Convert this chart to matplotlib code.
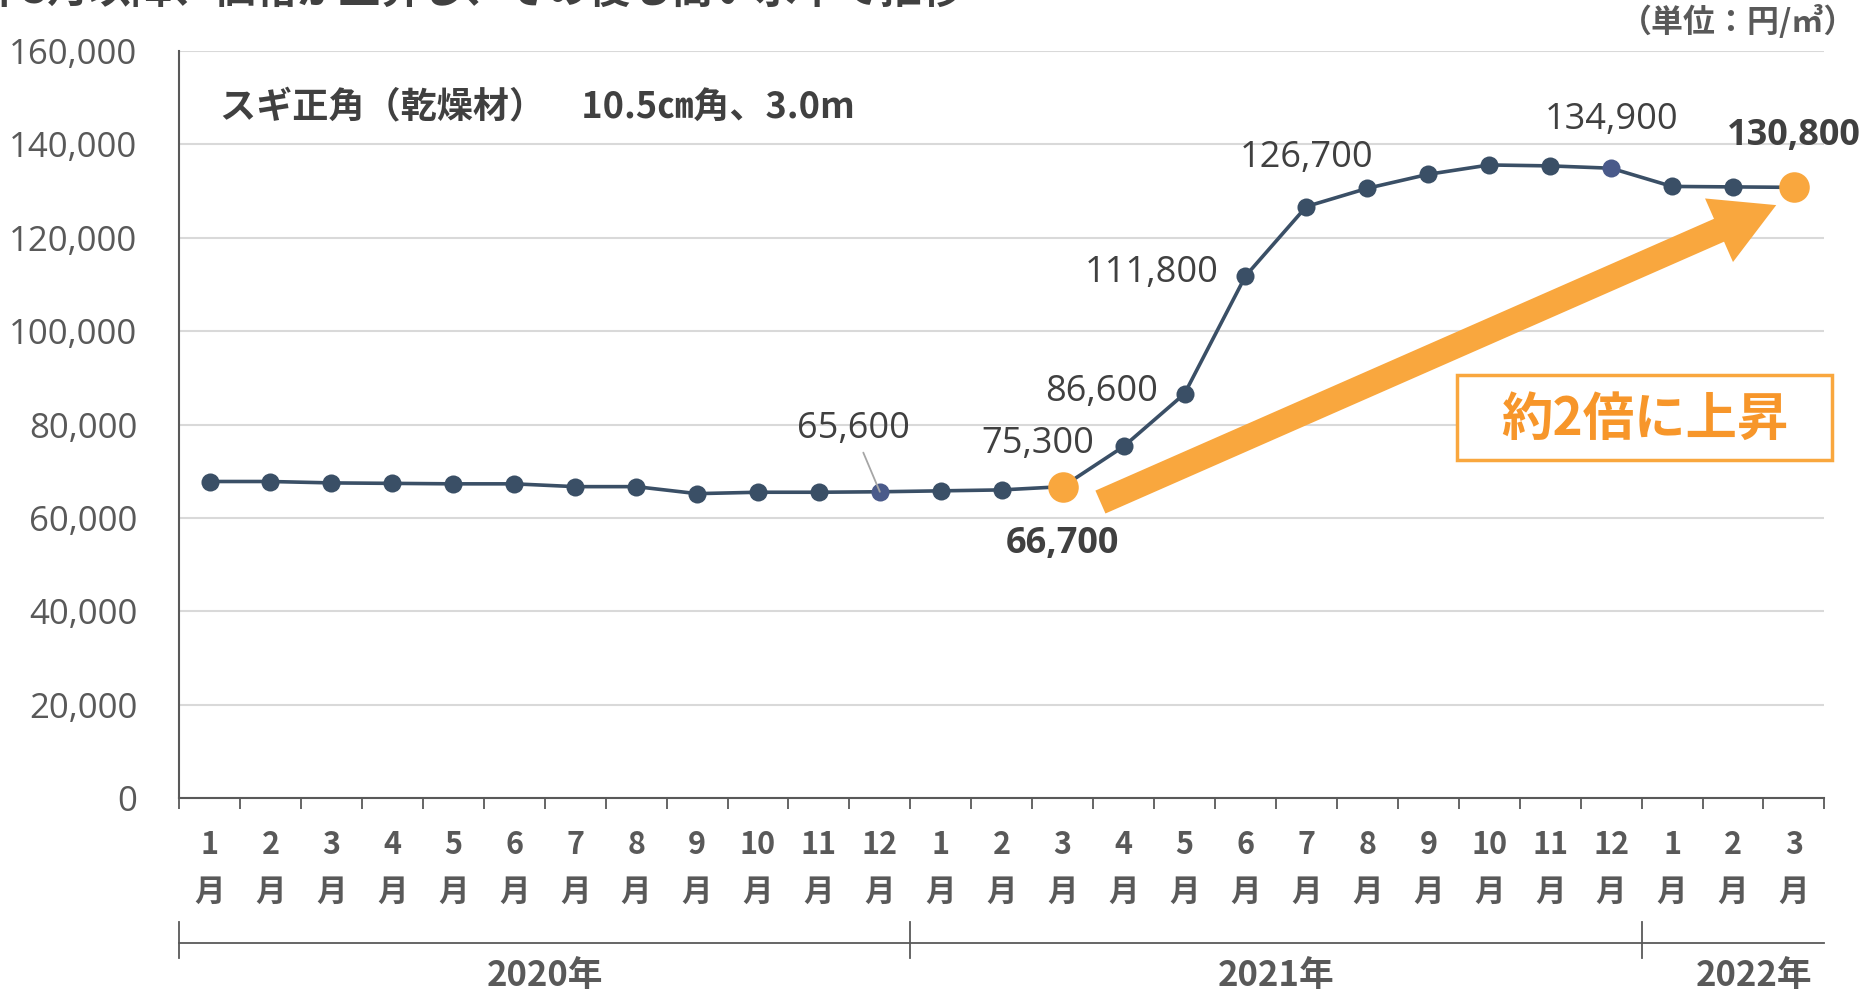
import matplotlib
matplotlib.use("Agg")
import matplotlib.pyplot as plt
from matplotlib.patches import FancyArrowPatch, ArrowStyle, Rectangle
from matplotlib.lines import Line2D
import matplotlib.transforms as mtransforms

plt.rcParams['font.family'] = ['Noto Sans CJK JP', 'DejaVu Sans']

# data
months = [1, 2, 3, 4, 5, 6, 7, 8, 9, 10, 11, 12,
          1, 2, 3, 4, 5, 6, 7, 8, 9, 10, 11, 12,
          1, 2, 3]
prices = [67800, 67800, 67500, 67400, 67300, 67300, 66700, 66700, 65200, 65500, 65500, 65600,
          65800, 66000, 66700, 75300, 86600, 111800, 126700, 130600, 133600, 135600, 135400, 134900,
          131000, 130900, 130800]
years = ['2020年', '2021年', '2022年']
year_spans = [(0, 12), (12, 24), (24, 27)]
yticks = [0, 20000, 40000, 60000, 80000, 100000, 120000, 140000, 160000]

# labelled points: index -> (offset in points, bold, ha)
labels = {
    11: ((-19, 45), False, 'center'),
    14: ((0, -41), True, 'center'),
    15: ((-21, 2), False, 'right'),
    16: ((-19, 1), False, 'right'),
    17: ((-19, 2), False, 'right'),
    18: ((0, 35), False, 'center'),
    23: ((0, 35), False, 'center'),
    26: ((0, 37), True, 'center'),
}

line_col = '#3a4f66'
hl_col = '#4a5a8a'
orange = '#f9a73e'
text_col = '#404040'
tick_col = '#595959'

fig = plt.figure(figsize=(18.75, 9.91), dpi=100)
ax = fig.add_axes([0.0955, 0.1947, 0.8775, 0.7538])

x = list(range(len(prices)))
ax.plot(x, prices, color=line_col, lw=2.6, zorder=3)
colors = []
for i in x:
    if i in (14, 26):
        colors.append(orange)
    elif i in (11, 23):
        colors.append(hl_col)
    else:
        colors.append(line_col)
sizes = [22 if c == orange else 13 for c in colors]
for i in x:
    ax.plot(x[i], prices[i], 'o', color=colors[i], ms=sizes[i], zorder=4, mec='none')

for i, (off, bold, ha) in labels.items():
    txt = f"{prices[i]:,}"
    kw = dict(xy=(x[i], prices[i]), xytext=off, textcoords='offset points',
              ha=ha, va='center', fontsize=26 if bold else 26,
              fontweight='bold' if bold else 'normal', color=text_col,
              family=['Open Sans', 'Noto Sans CJK JP'], zorder=5)
    if i == 11:
        kw['arrowprops'] = dict(arrowstyle='-', color='#a6a6a6', lw=1.3, shrinkA=2, shrinkB=0)
    ax.annotate(txt, **kw)

ax.set_xlim(-0.5, len(prices) - 0.5)
ax.set_ylim(0, 160000)
ax.set_yticks(yticks)
ax.set_yticklabels([f"{v:,}" for v in yticks], family=['Open Sans', 'Noto Sans CJK JP'],
                   fontsize=25, color=tick_col)
ax.tick_params(axis='y', length=0, pad=30)
ax.grid(axis='y', color='#d9d9d9', lw=1.5)
ax.set_axisbelow(True)

ax.set_xticks(x)
ax.set_xticklabels([f"{m}\n月" for m in months], fontsize=22, fontweight='bold', color=tick_col)
for t in ax.get_xticklabels():
    t.set_linespacing(1.6)
ax.set_xticks([i - 0.5 for i in range(len(prices) + 1)], minor=True)
ax.tick_params(axis='x', which='major', length=0, pad=22)
ax.tick_params(axis='x', which='minor', length=8, width=1.3, color=tick_col)

for s in ['top', 'right']:
    ax.spines[s].set_visible(False)
ax.spines['left'].set_color(tick_col)
ax.spines['bottom'].set_color(tick_col)
ax.spines['left'].set_linewidth(1.5)
ax.spines['bottom'].set_linewidth(1.5)

# year bracket below the month labels
trans = mtransforms.blended_transform_factory(ax.transData, ax.transAxes)
ax.add_line(Line2D([-0.5, len(prices) - 0.5], [-0.194, -0.194], transform=trans,
                   color=tick_col, lw=1.3, clip_on=False))
for (a, b), yr in zip(year_spans, years):
    ax.add_line(Line2D([a - 0.5, a - 0.5], [-0.166, -0.214], transform=trans,
                       color=tick_col, lw=1.3, clip_on=False))
    cx = (a + b - 1) / 2
    if yr == '2022年':
        cx += 0.35
    ax.text(cx, -0.238, yr, transform=trans, ha='center', va='center',
            fontsize=25, fontweight='bold', color=tick_col)

# big orange arrow
arrow = FancyArrowPatch((14.62, 63400), (25.71, 127000),
                        arrowstyle=ArrowStyle('simple', head_length=45, head_width=50, tail_width=18),
                        color=orange, lw=0, shrinkA=0, shrinkB=0, zorder=2, mutation_scale=1)
ax.add_patch(arrow)

ax.add_patch(Rectangle((20.47, 72400), 6.16, 18200, fc='white', ec=orange, lw=2.5,
                       zorder=6, clip_on=False))
ax.text(23.55, 81000, '約2倍に上昇', ha='center', va='center', fontsize=37,
        fontweight='bold', color='#f7962a', zorder=7, clip_on=False)

ax.text(0.025, 0.925, 'スギ正角（乾燥材）　10.5㎝角、3.0m', transform=ax.transAxes,
        ha='left', va='center', fontsize=26, fontweight='bold', color=text_col)

fig.text(0.99, 0.978, '（単位：円/㎥）', ha='right', va='center', fontsize=23,
         fontweight='bold', color=tick_col)
fig.text(-0.062, 1.0096, '2021年3月以降、価格が上昇し、その後も高い水準で推移', ha='left', va='center',
         fontsize=30, fontweight='bold', color=text_col)

fig.savefig('out.png', dpi=100)
